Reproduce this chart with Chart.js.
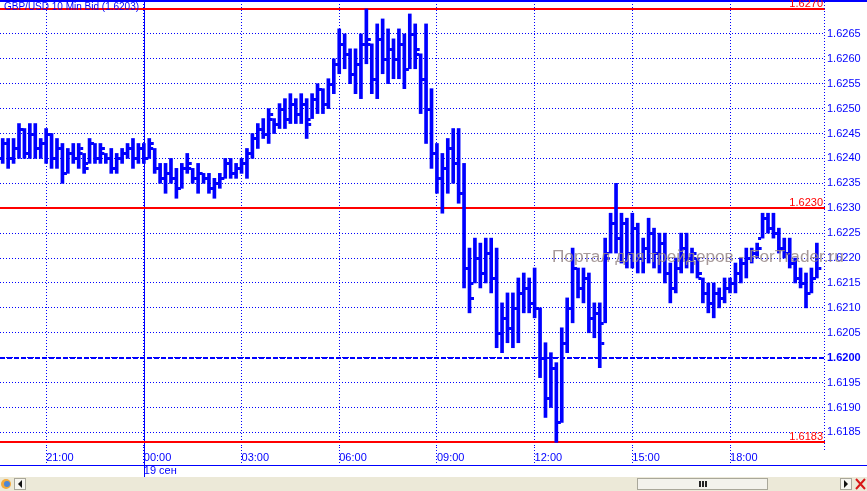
<!DOCTYPE html>
<html>
<head>
<meta charset="utf-8">
<script src="https://cdn.jsdelivr.net/npm/chart.js@4.4.1/dist/chart.umd.min.js"></script>
<style>
  html, body { margin: 0; padding: 0; background: #fff; }
  canvas { display: block; }
</style>
</head>
<body>
<canvas id="grafico" width="867" height="491"></canvas>
<script>
const titulo = 'GBP/USD 10 Min Bid (1.6203)';
const marcaAgua = 'Портал для трейдеров - ForTrader.ru';
const etiquetasHora = ['21:00', '00:00', '03:00', '06:00', '09:00', '12:00', '15:00', '18:00'];
const nuevoDia = '19 сен';
const nivelesRojos = [1.6270, 1.6230, 1.6183];
const nivelAzul = 1.6200;

// 10 min bars from 19:40 to 20:50 of the next day
const horas = [];
for (let k = 0; k < 152; k++) {
    const m = (19 * 60 + 40 + k * 10) % 1440;
    horas.push(String(Math.floor(m / 60)).padStart(2, '0') + ':' + String(m % 60).padStart(2, '0'));
}

const maximos = [
    1.6244,1.6244,1.6244,1.6247,1.6246,1.6247,1.6247,1.6244,1.6246,1.6245,
    1.6244,1.6243,1.6242,1.6243,1.6243,1.6241,1.6244,1.6243,1.6243,1.6241,
    1.6242,1.6241,1.6242,1.6243,1.6244,1.6243,1.6243,1.6244,1.6242,1.6239,
    1.6239,1.6240,1.6238,1.6239,1.6241,1.6238,1.6239,1.6237,1.6237,1.6236,
    1.6237,1.6240,1.6240,1.6239,1.6240,1.6242,1.6245,1.6247,1.6248,1.6250,
    1.6248,1.6251,1.6252,1.6253,1.6252,1.6253,1.6252,1.6253,1.6255,1.6254,
    1.6256,1.6260,1.6266,1.6265,1.6262,1.6262,1.6265,1.6270,1.6263,1.6267,
    1.6268,1.6266,1.6264,1.6266,1.6265,1.6269,1.6267,1.6261,1.6267,1.6254,
    1.6243,1.6241,1.6244,1.6246,1.6246,1.6239,1.6222,1.6224,1.6223,1.6224,
    1.6224,1.6222,1.6211,1.6213,1.6213,1.6216,1.6217,1.6216,1.6218,1.6210,
    1.6203,1.6201,1.6199,1.6206,1.6212,1.6222,1.6218,1.6218,1.6217,1.6211,
    1.6211,1.6224,1.6229,1.6235,1.6229,1.6228,1.6229,1.6227,1.6224,1.6228,
    1.6226,1.6225,1.6225,1.6219,1.6220,1.6225,1.6225,1.6222,1.6220,1.6216,
    1.6215,1.6215,1.6214,1.6216,1.6216,1.6219,1.6220,1.6222,1.6222,1.6223,
    1.6229,1.6229,1.6229,1.6226,1.6224,1.6224,1.6220,1.6218,1.6217,1.6218,
    1.6223
];
const minimos = [
    1.6239,1.6238,1.6239,1.6240,1.6240,1.6240,1.6240,1.6240,1.6239,1.6238,
    1.6238,1.6235,1.6237,1.6239,1.6238,1.6237,1.6239,1.6239,1.6239,1.6239,
    1.6237,1.6237,1.6239,1.6240,1.6238,1.6239,1.6239,1.6240,1.6237,1.6235,
    1.6233,1.6235,1.6232,1.6234,1.6237,1.6235,1.6233,1.6235,1.6233,1.6232,
    1.6234,1.6236,1.6236,1.6236,1.6237,1.6236,1.6240,1.6242,1.6244,1.6243,
    1.6245,1.6246,1.6246,1.6247,1.6247,1.6247,1.6244,1.6248,1.6249,1.6249,
    1.6250,1.6253,1.6257,1.6258,1.6255,1.6253,1.6252,1.6259,1.6253,1.6252,
    1.6257,1.6255,1.6256,1.6256,1.6254,1.6258,1.6258,1.6249,1.6243,1.6238,
    1.6233,1.6229,1.6233,1.6235,1.6231,1.6214,1.6209,1.6215,1.6214,1.6215,
    1.6213,1.6202,1.6201,1.6203,1.6202,1.6203,1.6209,1.6209,1.6208,1.6196,
    1.6188,1.6190,1.6183,1.6187,1.6201,1.6207,1.6212,1.6211,1.6205,1.6204,
    1.6198,1.6207,1.6221,1.6221,1.6219,1.6218,1.6218,1.6217,1.6217,1.6219,
    1.6218,1.6217,1.6215,1.6211,1.6213,1.6217,1.6218,1.6217,1.6216,1.6211,
    1.6209,1.6208,1.6210,1.6211,1.6213,1.6213,1.6215,1.6216,1.6219,1.6220,
    1.6224,1.6225,1.6224,1.6221,1.6220,1.6218,1.6215,1.6214,1.6210,1.6213,
    1.6216
];
const aperturas = [
    1.6240,1.6243,1.6240,1.6242,1.6246,1.6241,1.6245,1.6242,1.6243,1.6245,
    1.6240,1.6242,1.6237,1.6241,1.6240,1.6241,1.6239,1.6243,1.6240,1.6241,
    1.6240,1.6238,1.6240,1.6241,1.6242,1.6240,1.6242,1.6240,1.6242,1.6238,
    1.6236,1.6237,1.6236,1.6234,1.6238,1.6238,1.6236,1.6237,1.6236,1.6234,
    1.6235,1.6236,1.6239,1.6237,1.6238,1.6239,1.6241,1.6244,1.6246,1.6245,
    1.6248,1.6247,1.6250,1.6248,1.6251,1.6249,1.6251,1.6248,1.6252,1.6254,
    1.6251,1.6255,1.6259,1.6263,1.6261,1.6257,1.6259,1.6263,1.6263,1.6256,
    1.6264,1.6260,1.6262,1.6260,1.6263,1.6258,1.6265,1.6261,1.6256,1.6250,
    1.6241,1.6236,1.6238,1.6242,1.6239,1.6233,1.6218,1.6215,1.6220,1.6217,
    1.6221,1.6216,1.6205,1.6208,1.6206,1.6210,1.6213,1.6214,1.6211,1.6210,
    1.6200,1.6192,1.6198,1.6187,1.6203,1.6210,1.6218,1.6214,1.6216,1.6208,
    1.6209,1.6207,1.6221,1.6227,1.6224,1.6227,1.6221,1.6226,1.6220,1.6222,
    1.6225,1.6221,1.6223,1.6217,1.6214,1.6218,1.6222,1.6220,1.6220,1.6216,
    1.6213,1.6211,1.6213,1.6212,1.6214,1.6215,1.6217,1.6219,1.6220,1.6221,
    1.6224,1.6228,1.6226,1.6225,1.6222,1.6221,1.6219,1.6216,1.6215,1.6213,
    1.6216
];
const cierres = [
    1.6243,1.6240,1.6242,1.6246,1.6241,1.6245,1.6242,1.6243,1.6245,1.6240,
    1.6242,1.6237,1.6241,1.6240,1.6242,1.6238,1.6243,1.6240,1.6242,1.6240,
    1.6238,1.6240,1.6241,1.6242,1.6240,1.6242,1.6240,1.6243,1.6238,1.6236,
    1.6237,1.6236,1.6234,1.6238,1.6239,1.6236,1.6237,1.6236,1.6234,1.6235,
    1.6236,1.6239,1.6237,1.6238,1.6239,1.6241,1.6244,1.6246,1.6245,1.6249,
    1.6247,1.6250,1.6248,1.6251,1.6249,1.6251,1.6247,1.6252,1.6254,1.6251,
    1.6255,1.6259,1.6263,1.6261,1.6257,1.6259,1.6263,1.6264,1.6256,1.6264,
    1.6260,1.6262,1.6260,1.6263,1.6258,1.6265,1.6262,1.6256,1.6250,1.6241,
    1.6236,1.6238,1.6242,1.6239,1.6233,1.6218,1.6212,1.6220,1.6217,1.6221,
    1.6216,1.6205,1.6208,1.6206,1.6210,1.6213,1.6214,1.6211,1.6210,1.6200,
    1.6192,1.6198,1.6187,1.6203,1.6210,1.6218,1.6214,1.6216,1.6208,1.6209,
    1.6203,1.6220,1.6227,1.6224,1.6227,1.6221,1.6226,1.6220,1.6222,1.6225,
    1.6221,1.6223,1.6217,1.6214,1.6218,1.6222,1.6220,1.6221,1.6217,1.6213,
    1.6211,1.6213,1.6212,1.6214,1.6215,1.6217,1.6219,1.6220,1.6221,1.6222,
    1.6228,1.6226,1.6225,1.6222,1.6221,1.6219,1.6216,1.6215,1.6213,1.6216,
    1.6218
];

const azul = '#0000ff';
const fuente = 'Liberation Sans, Arial, sans-serif';

const decorado = {
    id: 'decorado',
    beforeDatasetsDraw(chart) {
        const { ctx, chartArea: a, scales: { x, y } } = chart;
        ctx.save();
        // day separator
        const xd = Math.round(x.getPixelForValue(horas.indexOf('00:00'))) + 0.5;
        ctx.strokeStyle = azul;
        ctx.lineWidth = 1;
        ctx.beginPath();
        ctx.moveTo(xd, 0);
        ctx.lineTo(xd, 477);
        ctx.stroke();
        // red levels
        ctx.fillStyle = '#ff0000';
        nivelesRojos.forEach(v => {
            const py = Math.round(y.getPixelForValue(v));
            ctx.fillRect(a.left, py - 1, a.right - a.left, 2);
        });
        // bid line
        const pb = Math.round(y.getPixelForValue(nivelAzul));
        ctx.strokeStyle = azul;
        ctx.lineWidth = 2;
        ctx.setLineDash([5, 2]);
        ctx.beginPath();
        ctx.moveTo(a.left, pb);
        ctx.lineTo(a.right, pb);
        ctx.stroke();
        ctx.restore();
    },
    afterDatasetsDraw(chart) {
        const { ctx, scales: { y } } = chart;
        const meta = chart.getDatasetMeta(0);
        ctx.save();
        ctx.fillStyle = azul;
        meta.data.forEach((b, i) => {
            const yo = Math.round(y.getPixelForValue(aperturas[i]));
            const yc = Math.round(y.getPixelForValue(cierres[i]));
            ctx.fillRect(b.x - 4.5, yo - 1, 3, 3);
            ctx.fillRect(b.x + 1.5, yc - 1, 3, 3);
        });
        ctx.restore();
    },
    afterDraw(chart) {
        const { ctx, chartArea: a, scales: { y } } = chart;
        const W = chart.width;
        ctx.save();
        ctx.fillStyle = azul;
        ctx.fillRect(0, 0, W, 2);
        ctx.fillRect(0, 465, W, 1);
        // right border of the plot
        ctx.strokeStyle = azul;
        ctx.lineWidth = 1;
        ctx.setLineDash([1, 2]);
        ctx.beginPath();
        ctx.moveTo(a.right - 0.5, 2);
        ctx.lineTo(a.right - 0.5, 451);
        ctx.stroke();
        ctx.setLineDash([]);
        // level labels
        ctx.font = '11px ' + fuente;
        ctx.fillStyle = '#ff0000';
        ctx.textAlign = 'right';
        ctx.textBaseline = 'bottom';
        nivelesRojos.forEach(v => {
            const py = Math.round(y.getPixelForValue(v));
            ctx.fillText(v.toFixed(4), a.right - 2, py);
        });
        // title
        ctx.font = '10px ' + fuente;
        ctx.fillStyle = azul;
        ctx.textAlign = 'left';
        ctx.textBaseline = 'top';
        ctx.fillText(titulo, 4, 2);
        // watermark
        ctx.font = '17.2px ' + fuente;
        ctx.fillStyle = 'rgba(150, 135, 135, 0.85)';
        ctx.textBaseline = 'middle';
        ctx.fillText(marcaAgua, 552, 257);
        // bottom strip with scroll bar
        ctx.fillStyle = '#ece9d8';
        ctx.fillRect(0, 477, W, 14);
        ctx.fillStyle = '#f3f2ec';
        ctx.fillRect(637, 478, 131, 12);
        ctx.strokeStyle = '#a9a79a';
        ctx.strokeRect(637.5, 478.5, 130, 11);
        ctx.fillStyle = '#222';
        [699, 702, 705].forEach(gx => ctx.fillRect(gx, 481, 2, 6));
        ctx.fillStyle = '#f7f6f1';
        ctx.fillRect(14, 478, 12, 12);
        ctx.fillRect(840, 478, 12, 12);
        ctx.strokeRect(14.5, 478.5, 11, 11);
        ctx.strokeRect(840.5, 478.5, 11, 11);
        ctx.fillStyle = '#111';
        ctx.beginPath();
        ctx.moveTo(18, 484); ctx.lineTo(22, 480); ctx.lineTo(22, 488); ctx.closePath(); ctx.fill();
        ctx.beginPath();
        ctx.moveTo(848, 484); ctx.lineTo(844, 480); ctx.lineTo(844, 488); ctx.closePath(); ctx.fill();
        ctx.fillStyle = '#f2a93b';
        ctx.beginPath(); ctx.arc(6, 484, 5, 0, Math.PI * 2); ctx.fill();
        ctx.fillStyle = '#4b86d6';
        ctx.beginPath(); ctx.arc(7, 484, 3, 0, Math.PI * 2); ctx.fill();
        ctx.strokeStyle = '#d81818';
        ctx.lineWidth = 2;
        ctx.beginPath();
        ctx.moveTo(856, 479); ctx.lineTo(865, 489);
        ctx.moveTo(865, 479); ctx.lineTo(856, 489);
        ctx.stroke();
        ctx.restore();
    }
};

new Chart(document.getElementById('grafico'), {
    type: 'bar',
    data: {
        labels: horas,
        datasets: [{
            data: minimos.map((m, i) => [m, maximos[i]]),
            backgroundColor: azul,
            borderWidth: 0,
            barThickness: 3
        }]
    },
    options: {
        responsive: false,
        animation: false,
        devicePixelRatio: 1,
        events: [],
        layout: { padding: { top: 1, left: 0, right: 0, bottom: 0 } },
        plugins: {
            legend: { display: false },
            tooltip: { enabled: false }
        },
        scales: {
            x: {
                offset: true,
                afterFit(s) {
                    s.height = 44;
                    s.paddingLeft = 0;
                    s.paddingRight = 0;
                },
                afterBuildTicks(s) {
                    s.ticks = s.ticks.filter(t => etiquetasHora.includes(horas[t.value]));
                },
                grid: {
                    offset: false,
                    color: azul,
                    tickColor: azul,
                    tickLength: 18,
                    tickBorderDash: [1, 2]
                },
                border: { display: false, dash: [1, 2] },
                ticks: {
                    autoSkip: false,
                    maxRotation: 0,
                    align: 'start',
                    padding: -14,
                    color: azul,
                    font: { family: fuente, size: 11 },
                    callback(v) {
                        const h = this.getLabelForValue(v);
                        return h === '00:00' ? [h, nuevoDia] : h;
                    }
                }
            },
            y: {
                position: 'right',
                min: 1.618207,
                max: 1.62716,
                afterFit(s) {
                    s.width = 42;
                    s.paddingTop = 0;
                    s.paddingBottom = 0;
                },
                afterBuildTicks(s) {
                    s.ticks = s.ticks.filter(t => t.value < 1.6268);
                },
                grid: { color: azul, drawTicks: false },
                border: { display: false, dash: [1, 2] },
                ticks: {
                    stepSize: 0.0005,
                    includeBounds: false,
                    padding: 2,
                    color: azul,
                    font: c => ({
                        family: fuente,
                        size: 11,
                        weight: c.tick && Math.abs(c.tick.value - nivelAzul) < 1e-6 ? 'bold' : 'normal'
                    }),
                    callback: v => v.toFixed(4)
                }
            }
        }
    },
    plugins: [decorado]
});
</script>
</body>
</html>
